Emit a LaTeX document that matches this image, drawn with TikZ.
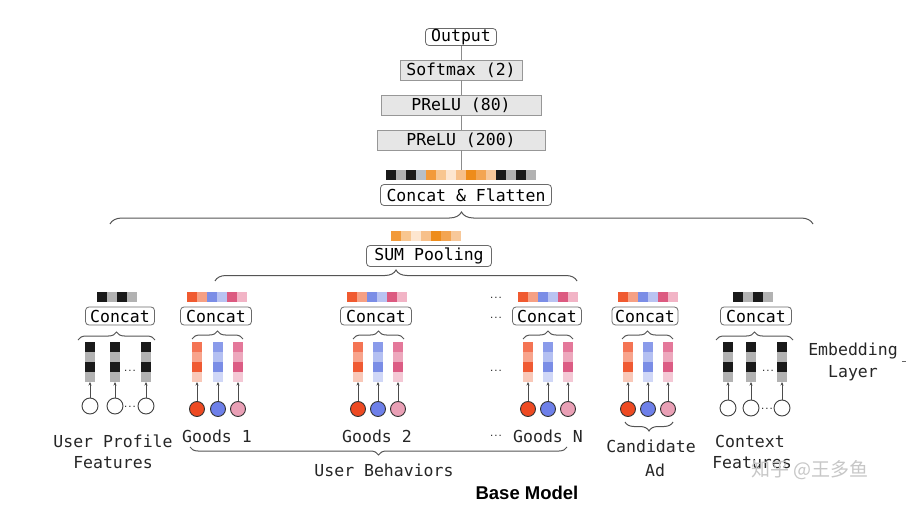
\documentclass[tikz,border=0pt]{standalone}
\usepackage{fontspec}
\setmainfont{DejaVu Sans Mono}
\newfontfamily\bmfont{Liberation Sans}
\newfontfamily\cjk{Noto Sans CJK SC}
\usetikzlibrary{decorations.pathreplacing,arrows.meta}
\definecolor{kblack}{HTML}{1A1A1A}
\definecolor{kgray}{HTML}{B2B2B2}
\definecolor{kbgray}{HTML}{B8C0C8}
\definecolor{boxline}{HTML}{6A6A6A}
\definecolor{boxfill}{HTML}{E6E6E6}
\definecolor{bracec}{HTML}{555555}
\definecolor{o1}{HTML}{F29A3A}
\definecolor{o2}{HTML}{F8C690}
\definecolor{o3}{HTML}{FDE6D0}
\definecolor{o4}{HTML}{F7C08A}
\definecolor{o5}{HTML}{EE8C1A}
\definecolor{o6}{HTML}{F3A552}
\definecolor{o7}{HTML}{F7C89A}
\definecolor{s1}{HTML}{F05A30}
\definecolor{s2}{HTML}{F6A084}
\definecolor{s3}{HTML}{7B8DE6}
\definecolor{s4}{HTML}{B9C3F2}
\definecolor{s5}{HTML}{DC5A80}
\definecolor{s6}{HTML}{F2B4C6}
\definecolor{r1}{HTML}{F47454}
\definecolor{r2}{HTML}{F8A48C}
\definecolor{r3}{HTML}{F05A32}
\definecolor{r4}{HTML}{F9C8B8}
\definecolor{b1}{HTML}{8A9BEA}
\definecolor{b2}{HTML}{B4C0F2}
\definecolor{b3}{HTML}{7A8DE6}
\definecolor{b4}{HTML}{D0D7F7}
\definecolor{p1}{HTML}{E4789A}
\definecolor{p2}{HTML}{EDA8BD}
\definecolor{p3}{HTML}{DC5C84}
\definecolor{p4}{HTML}{F4C8D5}
\definecolor{cred}{HTML}{EE4A22}
\definecolor{cblue}{HTML}{6E80EA}
\definecolor{cpink}{HTML}{EAA0B6}
\newcommand{\hstrip}[3]{%
  \foreach \cc [count=\ii from 0] in {#3} {\fill[\cc] (#1+10*\ii,#2) rectangle ++(10,10);}}
\newcommand{\ebar}[7]{%
  \fill[#4] (#2,#3) rectangle ++(10,10);
  \fill[#5] (#2,#3+10) rectangle ++(10,10);
  \fill[#6] (#2,#3+20) rectangle ++(10,10);
  \fill[#7] (#2,#3+30) rectangle ++(10,10);
  \coordinate (#1) at (#2+5,#3+40);}
\tikzset{
  fs/.style={font=\fontsize{16.5}{18}\selectfont},
  boxw/.style={fs, draw=boxline, rounded corners=3.5pt, fill=white, inner sep=0pt, minimum height=18pt, line width=0.8pt},
  boxg/.style={fs, draw=boxline!70, fill=boxfill, inner sep=0pt, minimum height=20pt, line width=0.8pt},
  lbl/.style={fs, inner sep=0pt, text=black!85},
  brc/.style={decorate, decoration={brace, amplitude=#1}, draw=bracec, line width=1pt},
  vline/.style={draw=black!45, line width=0.8pt},
  wcirc/.style={circle, draw=black!75, fill=white, line width=0.9pt, minimum size=16pt, inner sep=0pt},
  ccirc/.style={circle, draw=black!80, line width=0.9pt, minimum size=15pt, inner sep=0pt},
  arr/.style={draw=black!70, line width=0.6pt, -{Stealth[length=3.5pt,width=3pt]}},
  dots/.style={font=\fontsize{7}{8}\selectfont\bfseries, inner sep=0pt, text=black!80},
}
\begin{document}
\begin{tikzpicture}[x=1pt,y=-1pt]
\fill[white] (0,0) rectangle (916,508);
\useasboundingbox (0,0) rectangle (916,508);
% top tower
\node[boxw, minimum width=71pt, minimum height=17pt] (out) at (461,37) {Output};
\node[boxg, minimum width=122pt] (soft) at (461,70) {Softmax (2)};
\node[boxg, minimum width=160pt] (pr80) at (461,105) {PReLU (80)};
\node[boxg, minimum width=168pt] (pr200) at (461,140) {PReLU (200)};
\coordinate (ts) at (461,170);
\draw[vline] (out.south) -- (soft.north);
\draw[vline] (soft.south) -- (pr80.north);
\draw[vline] (pr80.south) -- (pr200.north);
\draw[vline] (pr200.south) -- (ts);
\hstrip{386}{170}{kblack,kgray,kblack,kbgray,o1,o2,o3,o4,o5,o6,o7,kblack,kgray,kblack,kgray}
\node[boxw, minimum width=171pt, minimum height=21pt] (cf) at (466,195) {Concat \& Flatten};
\draw[brc=12pt] (110,224) -- (813,224);
% sum pooling
\hstrip{391}{231}{o1,o2,o3,o4,o5,o6,o7}
\node[boxw, minimum width=125pt, minimum height=21pt] (sum) at (429,256) {SUM Pooling};
\draw[brc=11pt] (215,281) -- (577,281);
% strips
\hstrip{97}{292}{kblack,kgray,kblack,kgray}
\hstrip{187}{292}{s1,s2,s3,s4,s5,s6}
\hstrip{347}{292}{s1,s2,s3,s4,s5,s6}
\hstrip{518}{292}{s1,s2,s3,s4,s5,s6}
\hstrip{618}{292}{s1,s2,s3,s4,s5,s6}
\hstrip{733}{292}{kblack,kgray,kblack,kgray}
% concat boxes
\node[boxw, minimum width=69pt] (c0) at (120,316) {Concat};
\node[boxw, minimum width=71pt] (c1) at (216,316) {Concat};
\node[boxw, minimum width=71pt] (c2) at (376,316) {Concat};
\node[boxw, minimum width=69pt] (c3) at (547,316) {Concat};
\node[boxw, minimum width=66pt] (c4) at (645,316) {Concat};
\node[boxw, minimum width=71pt] (c5) at (756,316) {Concat};
% small braces
\draw[brc=8pt] (78,340) -- (155,340);
\draw[brc=8pt] (192,339) -- (243,339);
\draw[brc=8pt] (353,339) -- (404,339);
\draw[brc=8pt] (523,339) -- (573,339);
\draw[brc=8pt] (622,339) -- (673,339);
\draw[brc=8pt] (716,340) -- (793,340);
% bars
\ebar{a1}{85}{342}{kblack}{kgray}{kblack}{kgray}
\ebar{a2}{110}{342}{kblack}{kgray}{kblack}{kgray}
\ebar{a3}{141}{342}{kblack}{kgray}{kblack}{kgray}
\ebar{g1r}{192}{342}{r1}{r2}{r3}{r4}
\ebar{g1b}{213}{342}{b1}{b2}{b3}{b4}
\ebar{g1p}{233}{342}{p1}{p2}{p3}{p4}
\ebar{g2r}{353}{342}{r1}{r2}{r3}{r4}
\ebar{g2b}{373}{342}{b1}{b2}{b3}{b4}
\ebar{g2p}{393}{342}{p1}{p2}{p3}{p4}
\ebar{gnr}{523}{342}{r1}{r2}{r3}{r4}
\ebar{gnb}{543}{342}{b1}{b2}{b3}{b4}
\ebar{gnp}{563}{342}{p1}{p2}{p3}{p4}
\ebar{car}{623}{342}{r1}{r2}{r3}{r4}
\ebar{cab}{643}{342}{b1}{b2}{b3}{b4}
\ebar{cap}{663}{342}{p1}{p2}{p3}{p4}
\ebar{x1}{723}{342}{kblack}{kgray}{kblack}{kgray}
\ebar{x2}{746}{342}{kblack}{kgray}{kblack}{kgray}
\ebar{x3}{777}{342}{kblack}{kgray}{kblack}{kgray}
% circles
\node[wcirc] (ua1) at (90,406) {};
\node[wcirc] (ua2) at (115,406) {};
\node[wcirc] (ua3) at (146,406) {};
\node[ccirc, fill=cred] (u1r) at (197,409) {};
\node[ccirc, fill=cblue] (u1b) at (218,409) {};
\node[ccirc, fill=cpink] (u1p) at (238,409) {};
\node[ccirc, fill=cred] (u2r) at (358,409) {};
\node[ccirc, fill=cblue] (u2b) at (378,409) {};
\node[ccirc, fill=cpink] (u2p) at (398,409) {};
\node[ccirc, fill=cred] (unr) at (528,409) {};
\node[ccirc, fill=cblue] (unb) at (548,409) {};
\node[ccirc, fill=cpink] (unp) at (568,409) {};
\node[ccirc, fill=cred] (uar) at (628,409) {};
\node[ccirc, fill=cblue] (uab) at (648,409) {};
\node[ccirc, fill=cpink] (uap) at (668,409) {};
\node[wcirc] (ux1) at (728,408) {};
\node[wcirc] (ux2) at (751,408) {};
\node[wcirc] (ux3) at (782,408) {};
% arrows
\foreach \s/\t in {ua1/a1,ua2/a2,ua3/a3,u1r/g1r,u1b/g1b,u1p/g1p,u2r/g2r,u2b/g2b,u2p/g2p,unr/gnr,unb/gnb,unp/gnp,uar/car,uab/cab,uap/cap,ux1/x1,ux2/x2,ux3/x3}
  \draw[arr] (\s.north) -- (\t);
% dots
\node[dots] (d1) at (130,371) {...};
\node[dots] (d2) at (130,407) {...};
\node[dots] (d3) at (496,298) {...};
\node[dots] (d4) at (496,318) {...};
\node[dots] (d5) at (496,371) {...};
\node[dots] (d6) at (496,436) {...};
\node[dots] (d7) at (768,371) {...};
\node[dots] (d8) at (767,409) {...};
% labels
\node[lbl] (l1) at (113,441) {User Profile};
\node[lbl] (l2) at (113,463) {Features};
\node[lbl] (l3) at (217,436) {Goods 1};
\node[lbl] (l4) at (377,436) {Goods 2};
\node[lbl] (l5) at (548,436) {Goods N};
\node[lbl] (l6) at (651,446) {Candidate};
\node[lbl] (l7) at (655,470) {Ad};
\node[lbl] (l8) at (750,441) {Context};
\node[lbl] (l9) at (752,463) {Features};
\node[lbl] (l10) at (853,351) {Embedding};
\node[lbl] (l11) at (853,373) {Layer};
\draw[brc=8pt] (567,447) -- (190,447);
\draw[brc=9pt] (673,422) -- (625,422);
\node[lbl] (l12) at (384,470) {User Behaviors};
\node[inner sep=0pt, font=\bmfont\bfseries\fontsize{18.5}{20}\selectfont] (bm) at (527,493) {Base Model};
\node[inner sep=0pt, text=black!22, font=\cjk\fontsize{19}{21}\selectfont] (wm) at (810,470) {知乎 @王多鱼};
\draw[black!60, line width=0.8pt] (902,361) -- (906,361);
\end{tikzpicture}
\end{document}
